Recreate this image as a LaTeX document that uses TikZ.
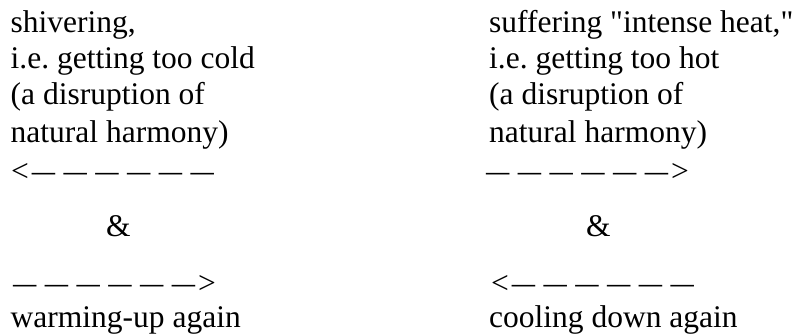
\documentclass[tikz,border=0pt]{standalone}
\usepackage{fontspec}
\setmainfont{Liberation Serif}
\usepackage{graphicx}
\usetikzlibrary{positioning}
\frenchspacing
\newcommand{\dsh}{\scalebox{0.74}[1]{—}}
\newcommand{\dashrun}{\dsh\kern8.4pt\dsh\kern8.4pt\dsh\kern8.4pt\dsh\kern8.4pt\dsh\kern8.4pt\dsh}
\begin{document}
\begin{tikzpicture}[x=1pt, y=1pt,
    txt/.style={anchor=base west, inner sep=0pt, font=\fontsize{31.5}{36}\selectfont}]
  \useasboundingbox (0,0) rectangle (799,335);
  % Left column: getting too cold
  \node[txt] (cold1) at (10.5,302) {shivering,};
  \node[txt] (cold2) at (10.5,266) {i.e. getting too cold};
  \node[txt] (cold3) at (10.5,230) {(a disruption of};
  \node[txt] (cold4) at (10.5,193) {natural harmony)};
  \node[txt] (coldarr) at (11,154) {<\kern3pt\dashrun};
  \node[txt] (coldand) at (106,99) {\&};
  \node[txt] (warmarr) at (13,42) {\dashrun\kern3pt>};
  \node[txt] (warm) at (10.5,8) {warming-up again};
  % Right column: getting too hot
  \node[txt] (hot1) at (489,302) {suffering \textquotedbl intense heat,\textquotedbl};
  \node[txt] (hot2) at (489,266) {i.e. getting too hot};
  \node[txt] (hot3) at (489,230) {(a disruption of};
  \node[txt] (hot4) at (489,193) {natural harmony)};
  \node[txt] (hotarr) at (486,154) {\dashrun\kern3pt>};
  \node[txt] (hotand) at (586,99) {\&};
  \node[txt] (coolarr) at (491,42) {<\kern3pt\dashrun};
  \node[txt] (cool) at (489,8) {cooling down again};
\end{tikzpicture}
\end{document}
